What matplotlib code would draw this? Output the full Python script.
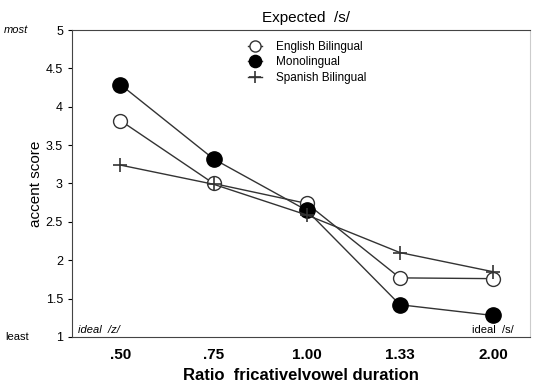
import matplotlib
matplotlib.use("Agg")
import matplotlib.pyplot as plt

plt.rcParams['font.family'] = ['Liberation Sans', 'DejaVu Sans']

ratios = [".50", ".75", "1.00", "1.33", "2.00"]
english = [3.82, 3.00, 2.74, 1.77, 1.76]
mono = [4.29, 3.32, 2.65, 1.42, 1.28]
spanish = [3.24, 2.99, 2.59, 2.10, 1.85]
yticks = [1, 1.5, 2, 2.5, 3, 3.5, 4, 4.5, 5]

fig = plt.figure(figsize=(5.33, 3.9), dpi=100)
ax = fig.add_axes([0.135, 0.136, 0.86, 0.787])
xs = range(len(ratios))

ax.plot(xs, english, color='#333333', lw=1.0, marker='o', ms=10,
        mfc='white', mec='#333333', label='English Bilingual', zorder=3)
ax.plot(xs, mono, color='#333333', lw=1.0, marker='o', ms=11,
        mfc='black', mec='black', label='Monolingual', zorder=3)
ax.plot(xs, spanish, color='#333333', lw=1.0, marker='+', ms=10,
        mew=1.2, label='Spanish Bilingual', zorder=3)

ax.set_xlim(-0.52, 4.4)
ax.set_ylim(1, 5)
ax.set_xticks(list(xs))
ax.set_xticklabels(ratios, fontweight='bold', fontsize=11)
ax.tick_params(axis='x', length=0, pad=8)
ax.set_yticks(yticks)
ax.set_yticklabels(['1', '1.5', '2', '2.5', '3', '3.5', '4', '4.5', '5'], fontsize=9)
ax.tick_params(axis='y', length=3, direction='out')
for s in ax.spines.values():
    s.set_color('#444444')
ax.spines['right'].set_color('#cccccc')

ax.set_xlabel('Ratio  fricativelvowel duration', fontweight='bold', fontsize=12, labelpad=4)
ax.set_ylabel('accent score', fontsize=11, labelpad=2)
ax.set_title('Expected  /s/', fontsize=11, pad=6, x=0.51)

ax.text(-0.095, 5, 'most', transform=ax.get_yaxis_transform(), ha='right',
        va='center', fontsize=8, style='italic')
ax.text(-0.095, 1, 'least', transform=ax.get_yaxis_transform(), ha='right',
        va='center', fontsize=8)
ax.text(-0.45, 1.03, 'ideal  /z/', fontsize=8, style='italic', va='bottom')
ax.text(4.0, 1.03, 'ideal  /s/', fontsize=8, ha='center', va='bottom')

ax.legend(loc='upper left', bbox_to_anchor=(0.36, 1.0), frameon=False,
          fontsize=8.5, handlelength=1.2, handletextpad=1.2, labelspacing=0.3,
          markerscale=0.8)

fig.savefig('out.png', dpi=100)
